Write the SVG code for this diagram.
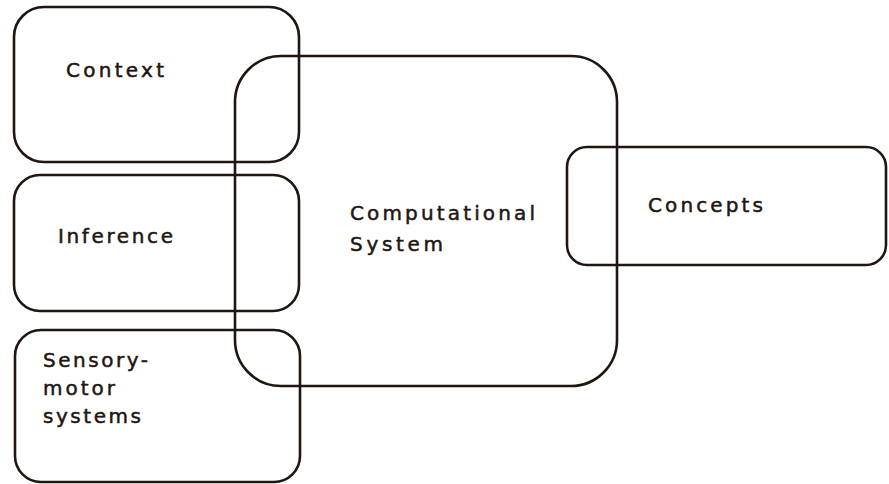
<svg xmlns="http://www.w3.org/2000/svg" width="889" height="484" viewBox="0 0 889 484">
  <style>
    .box { fill: none; stroke: #1f1612; stroke-width: 2.6; }
    .label { font-family: "DejaVu Sans", "Liberation Sans", sans-serif; font-size: 20px; fill: #1f1612; stroke: #1f1612; stroke-width: 0.5; }
  </style>
  <rect width="889" height="484" fill="#ffffff"/>

  <g id="context">
    <rect class="box" x="14" y="7" width="285" height="155" rx="30" ry="30"/>
    <text class="label" x="66" y="77" textLength="98" lengthAdjust="spacing">Context</text>
  </g>

  <g id="inference">
    <rect class="box" x="14" y="175" width="285" height="136" rx="26" ry="26"/>
    <text class="label" x="58" y="243" textLength="115" lengthAdjust="spacing">Inference</text>
  </g>

  <g id="sensory-motor">
    <rect class="box" x="15" y="330" width="285" height="152" rx="26" ry="26"/>
    <text class="label" x="43" y="367" textLength="105" lengthAdjust="spacing">Sensory-</text>
    <text class="label" x="43" y="395" textLength="72" lengthAdjust="spacing">motor</text>
    <text class="label" x="43" y="423" textLength="98" lengthAdjust="spacing">systems</text>
  </g>

  <g id="computational-system">
    <rect class="box" x="235" y="56" width="382" height="330" rx="46" ry="46"/>
    <text class="label" x="350" y="220" textLength="185" lengthAdjust="spacing">Computational</text>
    <text class="label" x="350" y="251" textLength="93" lengthAdjust="spacing">System</text>
  </g>

  <g id="concepts">
    <rect class="box" x="567" y="147" width="319" height="118" rx="20" ry="20"/>
    <text class="label" x="648" y="212" textLength="115" lengthAdjust="spacing">Concepts</text>
  </g>
</svg>
